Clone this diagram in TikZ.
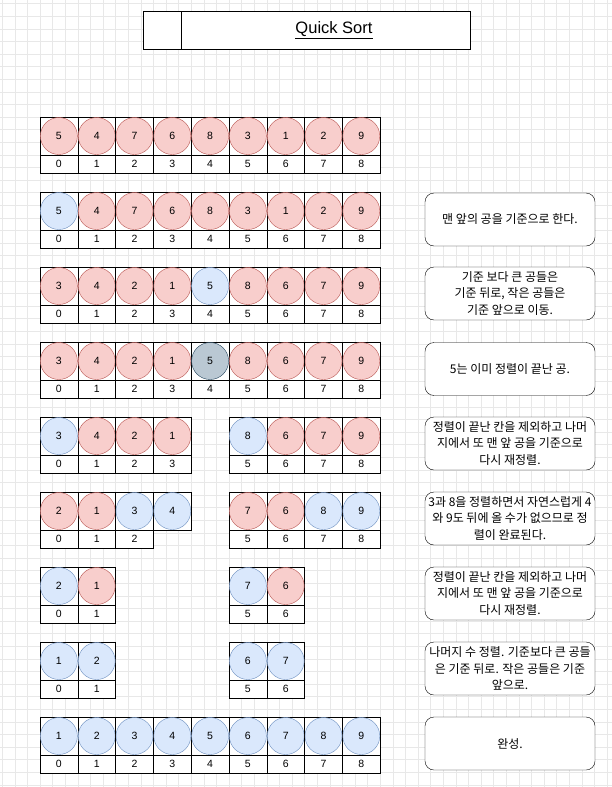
\documentclass[tikz,border=0pt]{standalone}
\usepackage{fontspec}
\setmainfont{Liberation Sans}
\newfontfamily\kr{Noto Sans CJK KR}
\usetikzlibrary{positioning}

\definecolor{redfill}{HTML}{F8CECC}
\definecolor{redline}{HTML}{B85450}
\definecolor{bluefill}{HTML}{DAE8FC}
\definecolor{blueline}{HTML}{6C8EBF}
\definecolor{grayfill}{HTML}{BAC8D3}
\definecolor{grayline}{HTML}{23445D}
\definecolor{gridline}{HTML}{E8E8E8}

\tikzset{
  slot/.style={draw,fill=white,minimum width=37.8pt,minimum height=38pt,inner sep=0},
  idx/.style={draw,fill=white,minimum width=37.8pt,minimum height=18pt,inner sep=0,font=\fontsize{10.5}{12}\selectfont},
  ball/.style={circle,minimum size=37pt,inner sep=0,font=\fontsize{10.5}{12}\selectfont},
  redball/.style={ball,fill=redfill,draw=redline},
  blueball/.style={ball,fill=bluefill,draw=blueline},
  grayball/.style={ball,fill=grayfill,draw=grayline},
  note/.style={draw,fill=white,rounded corners=9pt,minimum width=170pt,minimum height=53pt,align=center,
    inner sep=0,font=\kr\fontsize{12}{16.5}\selectfont}
}

\begin{document}
\begin{tikzpicture}[x=1pt,y=-1pt]
  \useasboundingbox (0,0) rectangle (612,787);
  \fill[white] (0,0) rectangle (612,787);
  % background grid
  \foreach \k in {0,...,48}
    \draw[gridline] (2.2+12.6*\k,0) -- (2.2+12.6*\k,787);
  \foreach \k in {0,...,62}
    \draw[gridline] (0,3.6+12.6*\k) -- (612,3.6+12.6*\k);

  % title
  \node (side) at (162,30) [draw,fill=white,minimum width=38pt,minimum height=38pt]{};
  \node (head) at (325.5,30) [draw,fill=white,minimum width=289pt,minimum height=38pt]{};
  \node (title) at (334,30) [font=\fontsize{16.5}{18}\selectfont]{\underline{Quick Sort}};

  % row 1
  \foreach \i/\v in {0/5,1/4,2/7,3/6,4/8,5/3,6/1,7/2,8/9}{
    \node (slot-1-\i) at (58.9+37.8*\i,136) [slot]{};
    \node (ball-1-\i) at (slot-1-\i) [redball]{\v};
  }
  \foreach \i in {0,...,8}
    \node (idx-1-\i) at (58.9+37.8*\i,164) [idx]{\i};

  % row 2
  \foreach \i/\v/\s in {0/5/blueball,1/4/redball,2/7/redball,3/6/redball,4/8/redball,
                        5/3/redball,6/1/redball,7/2/redball,8/9/redball}{
    \node (slot-2-\i) at (58.9+37.8*\i,211) [slot]{};
    \node (ball-2-\i) at (slot-2-\i) [\s]{\v};
  }
  \foreach \i in {0,...,8}
    \node (idx-2-\i) at (58.9+37.8*\i,239) [idx]{\i};

  % row 3
  \foreach \i/\v/\s in {0/3/redball,1/4/redball,2/2/redball,3/1/redball,4/5/blueball,
                        5/8/redball,6/6/redball,7/7/redball,8/9/redball}{
    \node (slot-3-\i) at (58.9+37.8*\i,286) [slot]{};
    \node (ball-3-\i) at (slot-3-\i) [\s]{\v};
  }
  \foreach \i in {0,...,8}
    \node (idx-3-\i) at (58.9+37.8*\i,314) [idx]{\i};

  % row 4
  \foreach \i/\v/\s in {0/3/redball,1/4/redball,2/2/redball,3/1/redball,4/5/grayball,
                        5/8/redball,6/6/redball,7/7/redball,8/9/redball}{
    \node (slot-4-\i) at (58.9+37.8*\i,361) [slot]{};
    \node (ball-4-\i) at (slot-4-\i) [\s]{\v};
  }
  \foreach \i in {0,...,8}
    \node (idx-4-\i) at (58.9+37.8*\i,389) [idx]{\i};

  % row 5
  \foreach \i/\v/\s in {0/3/blueball,1/4/redball,2/2/redball,3/1/redball,
                        5/8/blueball,6/6/redball,7/7/redball,8/9/redball}{
    \node (slot-5-\i) at (58.9+37.8*\i,436) [slot]{};
    \node (ball-5-\i) at (slot-5-\i) [\s]{\v};
  }
  \foreach \i in {0,1,2,3,5,6,7,8}
    \node (idx-5-\i) at (58.9+37.8*\i,464) [idx]{\i};

  % row 6
  \foreach \i/\v/\s in {0/2/redball,1/1/redball,2/3/blueball,3/4/blueball,
                        5/7/redball,6/6/redball,7/8/blueball,8/9/blueball}{
    \node (slot-6-\i) at (58.9+37.8*\i,511) [slot]{};
    \node (ball-6-\i) at (slot-6-\i) [\s]{\v};
  }
  \foreach \i in {0,1,2,5,6,7,8}
    \node (idx-6-\i) at (58.9+37.8*\i,539) [idx]{\i};

  % row 7
  \foreach \i/\v/\s in {0/2/blueball,1/1/redball,5/7/blueball,6/6/redball}{
    \node (slot-7-\i) at (58.9+37.8*\i,586) [slot]{};
    \node (ball-7-\i) at (slot-7-\i) [\s]{\v};
  }
  \foreach \i in {0,1,5,6}
    \node (idx-7-\i) at (58.9+37.8*\i,614) [idx]{\i};

  % row 8
  \foreach \i/\v/\s in {0/1/blueball,1/2/blueball,5/6/blueball,6/7/blueball}{
    \node (slot-8-\i) at (58.9+37.8*\i,661) [slot]{};
    \node (ball-8-\i) at (slot-8-\i) [\s]{\v};
  }
  \foreach \i in {0,1,5,6}
    \node (idx-8-\i) at (58.9+37.8*\i,689) [idx]{\i};

  % row 9
  \foreach \i/\v in {0/1,1/2,2/3,3/4,4/5,5/6,6/7,7/8,8/9}{
    \node (slot-9-\i) at (58.9+37.8*\i,736) [slot]{};
    \node (ball-9-\i) at (slot-9-\i) [blueball]{\v};
  }
  \foreach \i in {0,...,8}
    \node (idx-9-\i) at (58.9+37.8*\i,764) [idx]{\i};

  % notes
  \node (note-2) at (510,219.5) [note]{맨 앞의 공을 기준으로 한다.};
  \node (note-3) at (510,293.5) [note]{기준 보다 큰 공들은\\기준 뒤로, 작은 공들은\\기준 앞으로 이동.};
  \node (note-4) at (510,369) [note]{5는 이미 정렬이 끝난 공.};
  \node (note-5) at (510,443.5) [note]{정렬이 끝난 칸을 제외하고 나머\\지에서 또 맨 앞 공을 기준으로\\다시 재정렬.};
  \node (note-6) at (510,518.5) [note]{3과 8을 정렬하면서 자연스럽게 4\\와 9도 뒤에 올 수가 없으므로 정\\렬이 완료된다.};
  \node (note-7) at (510,593.5) [note]{정렬이 끝난 칸을 제외하고 나머\\지에서 또 맨 앞 공을 기준으로\\다시 재정렬.};
  \node (note-8) at (510,668.5) [note]{나머지 수 정렬. 기준보다 큰 공들\\은 기준 뒤로. 작은 공들은 기준\\앞으로.};
  \node (note-9) at (510,743.5) [note]{완성.};
\end{tikzpicture}
\end{document}
